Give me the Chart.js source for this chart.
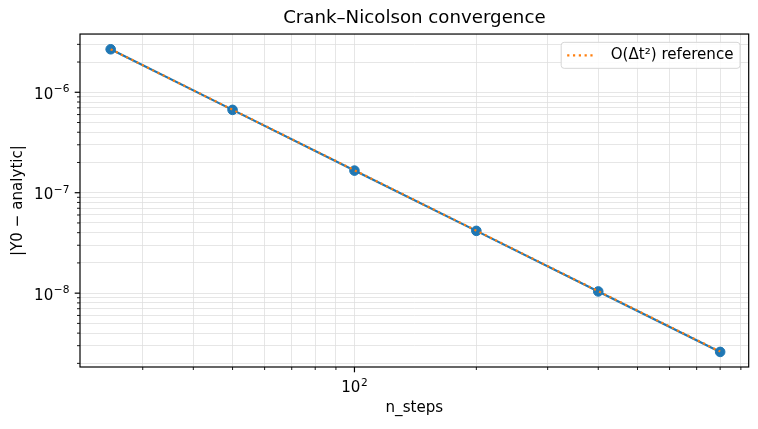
<!DOCTYPE html>
<html>
<head>
<meta charset="utf-8">
<script src="https://cdn.jsdelivr.net/npm/chart.js@4.4.1/dist/chart.umd.min.js"></script>
<style>
html, body { margin:0; padding:0; background:#fff; }
#wrap { width:758px; height:429px; }
</style>
</head>
<body>
<div id="wrap"><canvas id="cn_chart" width="758" height="429"></canvas></div>
<script>
// convergence data
const nSteps = [25, 50, 100, 200, 400, 800];
const cnError = [2.68e-6, 6.68e-7, 1.66e-7, 4.17e-8, 1.04e-8, 2.60e-9];
const refError = [2.68e-6, 6.70e-7, 1.675e-7, 4.19e-8, 1.047e-8, 2.62e-9];

// axis limits and labelled decades
const xLimits = [21, 941];
const yLimits = [1.84e-9, 3.8e-6];
const xDecades = [1, 2];
const yDecades = [-9, -8, -7, -6];
const xLabelExp = [2];
const yLabelExp = [-6, -7, -8];

const fontFam = "'DejaVu Sans', sans-serif";
const baseSize = 15.1;
const supSize = 10.6;

function makeTicks (decades, limits, labelExp) {
    let ticks = [];
    for (let e of decades) {
        for (let m = 1; m <= 9; m++) {
            let v = Number((m * Math.pow(10, e)).toPrecision(3));
            if (v < limits[0] || v > limits[1]) continue;
            let lab = (m == 1 && labelExp.includes(e)) ? String(e).replace('-', '−') : null;
            ticks.push({value: v, exp: lab});
        }
    }
    return ticks;
}

const xTicks = makeTicks(xDecades, xLimits, xLabelExp);
const yTicks = makeTicks(yDecades, yLimits, yLabelExp);

// tick labels like 10^-6, drawn as "10" plus a raised exponent
function drawPow (ctx, exp, x, y, align) {
    ctx.font = baseSize + 'px ' + fontFam;
    let w1 = ctx.measureText('10').width;
    ctx.font = supSize + 'px ' + fontFam;
    let w2 = ctx.measureText(exp).width;
    let x0 = align == 'right' ? x - w1 - w2 - 0.5 : x - (w1 + w2 + 0.5) / 2;
    ctx.textAlign = 'left';
    ctx.textBaseline = 'alphabetic';
    ctx.font = baseSize + 'px ' + fontFam;
    ctx.fillText('10', x0, y);
    ctx.font = supSize + 'px ' + fontFam;
    ctx.fillText(exp, x0 + w1 + 0.5, y - 6.2);
}

// ticks, frame, tick labels and the in-plot legend, matplotlib style
const framePlugin = {
    id: 'frame',
    afterDraw (chart) {
        let ctx = chart.ctx;
        let area = chart.chartArea;
        let xs = chart.scales.x;
        let ys = chart.scales.y;
        ctx.save();
        ctx.strokeStyle = '#000';
        ctx.fillStyle = '#000';
        for (let t of xTicks) {
            let px = xs.getPixelForValue(t.value);
            let major = t.exp != null;
            ctx.lineWidth = major ? 1.2 : 0.9;
            ctx.beginPath();
            ctx.moveTo(px, area.bottom);
            ctx.lineTo(px, area.bottom + (major ? 5.3 : 3.0));
            ctx.stroke();
            if (major) drawPow(ctx, t.exp, px, area.bottom + 25, 'center');
        }
        for (let t of yTicks) {
            let py = ys.getPixelForValue(t.value);
            let major = t.exp != null;
            ctx.lineWidth = major ? 1.2 : 0.9;
            ctx.beginPath();
            ctx.moveTo(area.left, py);
            ctx.lineTo(area.left - (major ? 5.3 : 3.0), py);
            ctx.stroke();
            if (major) drawPow(ctx, t.exp, area.left - 10.6, py + 6.4, 'right');
        }
        ctx.lineWidth = 1.2;
        ctx.strokeRect(area.left, area.top, area.right - area.left, area.bottom - area.top);

        // legend
        let ds = chart.data.datasets[0];
        ctx.font = baseSize + 'px ' + fontFam;
        let textW = ctx.measureText(ds.label).width;
        let boxW = 49.5 + textW + 6.5;
        let boxH = 26;
        let boxR = area.right - 8.7;
        let boxL = boxR - boxW;
        let boxT = area.top + 8.3;
        ctx.beginPath();
        ctx.roundRect(boxL, boxT, boxW, boxH, 3);
        ctx.fillStyle = 'rgba(255,255,255,0.85)';
        ctx.fill();
        ctx.strokeStyle = '#d6d6d6';
        ctx.lineWidth = 1;
        ctx.stroke();
        let midY = boxT + boxH / 2;
        ctx.strokeStyle = ds.borderColor;
        ctx.lineWidth = ds.borderWidth;
        ctx.setLineDash(ds.borderDash);
        ctx.beginPath();
        ctx.moveTo(boxL + 6, midY);
        ctx.lineTo(boxL + 33, midY);
        ctx.stroke();
        ctx.setLineDash([]);
        ctx.fillStyle = '#000';
        ctx.textAlign = 'left';
        ctx.textBaseline = 'middle';
        ctx.fillText(ds.label, boxL + 49.5, midY);
        ctx.restore();
    }
};

let cnData = nSteps.map((x, i) => ({x: x, y: cnError[i]}));
let refData = nSteps.map((x, i) => ({x: x, y: refError[i]}));

let ctx_cn = document.getElementById('cn_chart').getContext('2d');
let cn_chart = new Chart(ctx_cn, {
    type: 'scatter',
    data: {
        datasets: [
            {
                label: 'O(Δt²) reference',
                data: refData,
                showLine: true,
                borderColor: '#ff7f0e',
                borderWidth: 2.2,
                borderDash: [2.2, 3.6],
                pointRadius: 0,
                order: 1,
            },
            {
                label: 'Crank–Nicolson',
                data: cnData,
                showLine: true,
                borderColor: '#1f77b4',
                backgroundColor: '#1f77b4',
                borderWidth: 2.2,
                pointRadius: 4.8,
                pointBorderWidth: 1,
                order: 2,
            },
        ],
    },
    options: {
        responsive: false,
        animation: false,
        devicePixelRatio: 1,
        layout: { padding: { left: 0, right: 9.3, top: 0, bottom: 0 } },
        plugins: {
            legend: { display: false },
            tooltip: { enabled: false },
            title: {
                display: true,
                fullSize: false,
                text: 'Crank–Nicolson convergence',
                color: '#000',
                font: { family: fontFam, size: 18.2, weight: 'normal' },
                padding: { top: 7.5, bottom: 4.7 },
            },
        },
        scales: {
            x: {
                type: 'logarithmic',
                min: xLimits[0],
                max: xLimits[1],
                bounds: 'data',
                afterBuildTicks: (scale) => { scale.ticks = xTicks.map(t => ({value: t.value})); },
                afterFit: (scale) => { scale.height = 62; },
                ticks: { display: false, autoSkip: false },
                grid: {
                    drawTicks: false,
                    lineWidth: 0.8,
                    color: '#e0e0e0',
                },
                border: { display: false },
                title: {
                    display: true,
                    text: 'n_steps',
                    color: '#000',
                    font: { family: fontFam, size: baseSize },
                    padding: { top: 0, bottom: 11.9 },
                },
            },
            y: {
                type: 'logarithmic',
                min: yLimits[0],
                max: yLimits[1],
                bounds: 'data',
                afterBuildTicks: (scale) => { scale.ticks = yTicks.map(t => ({value: t.value})); },
                afterFit: (scale) => { scale.width = 80; },
                ticks: { display: false, autoSkip: false },
                grid: {
                    drawTicks: false,
                    lineWidth: 0.8,
                    color: '#e0e0e0',
                },
                border: { display: false },
                title: {
                    display: true,
                    text: '|Y0 − analytic|',
                    color: '#000',
                    font: { family: fontFam, size: baseSize },
                    padding: { top: 8.9, bottom: 0 },
                },
            },
        },
    },
    plugins: [framePlugin],
});
</script>
</body>
</html>
